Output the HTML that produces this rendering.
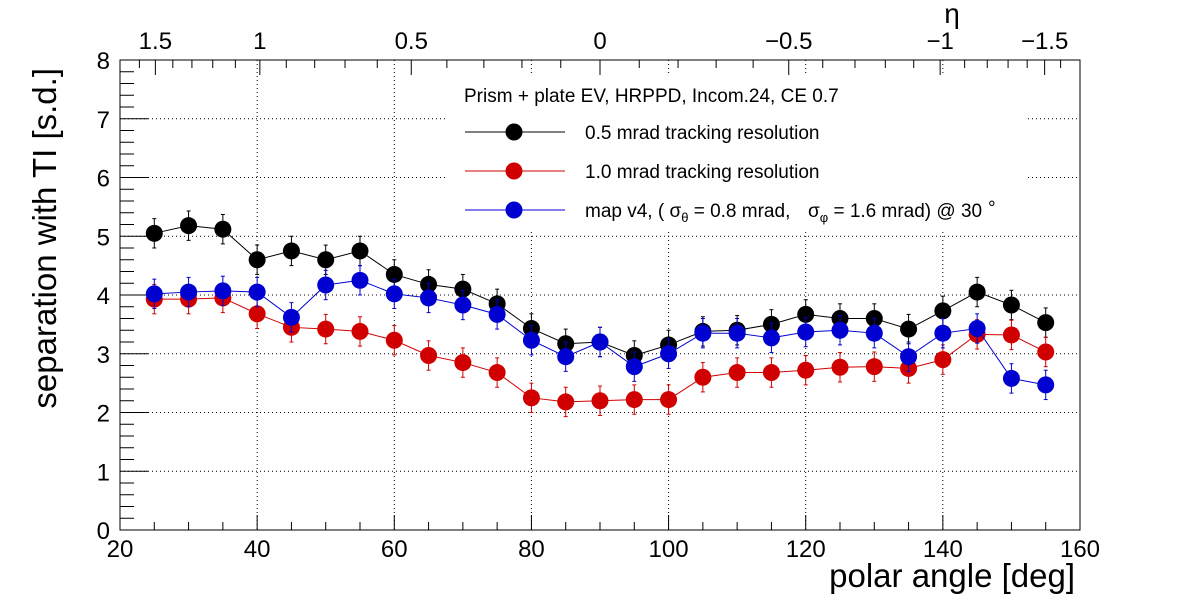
<!DOCTYPE html>
<html><head><meta charset="utf-8"><style>body{margin:0;background:#fff;overflow:hidden}svg{display:block}</style></head><body>
<svg id="s" width="1200" height="600" xmlns="http://www.w3.org/2000/svg" font-family="Liberation Sans, sans-serif"></svg>
<script>
const s=document.getElementById('s');let h='';
const X=v=>120+(v-20)*960/140, Y=v=>530-v*58.75;
for(let i=1;i<8;i++)h+=`<line x1="120" x2="1080" y1="${Y(i)}" y2="${Y(i)}" stroke="#000" stroke-width="1" stroke-dasharray="1,3"/>`;
for(let v=40;v<160;v+=20){const x=X(v);h+=`<line x1="${x}" x2="${x}" y1="60" y2="530" stroke="#000" stroke-dasharray="1,3"/>`;}
const etas=[1.5,1,0.5,0,-0.5,-1,-1.5];
const th=e=>2*Math.atan(Math.exp(-e))*180/Math.PI;
h+=`<rect x="445" y="75" width="580" height="155" fill="#fff"/>`;
h+=`<rect x="120" y="60" width="960" height="470" fill="none" stroke="#000"/>`;
for(let v=20;v<=160;v+=5){const x=X(v),L=v%20==0?15:8;h+=`<line x1="${x}" x2="${x}" y1="530" y2="${530-L}" stroke="#000"/>`;}
for(let v=20;v<=160;v+=20)h+=`<text x="${X(v)}" y="557" font-size="24" text-anchor="middle">${v}</text>`;
for(let k=0;k<=40;k++){const v=k*0.2,y=Y(v),L=k%5==0?28:14;h+=`<line x1="120" x2="${120+L}" y1="${y}" y2="${y}" stroke="#000"/>`;}
for(let v=0;v<=8;v++)h+=`<text x="110" y="${Y(v)+9}" font-size="24" text-anchor="end">${v}</text>`;
for(let k=16;k>=-16;k--){const e=k/10;const x=X(th(e));const maj=k%5==0;h+=`<line x1="${x}" x2="${x}" y1="60" y2="${60+(maj?15:8)}" stroke="#000"/>`;}
const lab={1.5:'1.5',1:'1',0.5:'0.5',0:'0','-0.5':'\u22120.5','-1':'\u22121','-1.5':'\u22121.5'};
for(const e of etas)h+=`<text x="${X(th(e))}" y="49" font-size="24" text-anchor="middle">${lab[e]}</text>`;
h+=`<text x="952" y="23" font-size="28" text-anchor="middle">η</text>`;
h+=`<text x="1075" y="587" font-size="33" text-anchor="end">polar angle [deg]</text>`;
h+=`<text transform="translate(56,68) rotate(-90)" font-size="33" text-anchor="end">separation with TI [s.d.]</text>`;
const xs=[];for(let v=25;v<=155;v+=5)xs.push(v);
const B=[5.05,5.18,5.12,4.6,4.75,4.6,4.75,4.35,4.18,4.1,3.85,3.43,3.17,3.2,2.97,3.15,3.38,3.4,3.5,3.67,3.6,3.6,3.42,3.73,4.05,3.83,3.53];
const R=[3.93,3.93,3.95,3.68,3.45,3.42,3.38,3.23,2.97,2.85,2.68,2.25,2.18,2.2,2.22,2.22,2.6,2.68,2.68,2.72,2.77,2.78,2.75,2.9,3.33,3.32,3.03];
const U=[4.02,4.05,4.07,4.05,3.62,4.17,4.25,4.02,3.95,3.83,3.67,3.23,2.95,3.2,2.78,3.0,3.35,3.35,3.27,3.37,3.4,3.35,2.95,3.35,3.43,2.58,2.47];
function ser(d,c){let p=xs.map((v,i)=>X(v)+','+Y(d[i])).join(' ');h+=`<polyline points="${p}" fill="none" stroke="${c}" stroke-width="1"/>`;
xs.forEach((v,i)=>{const x=X(v),y=Y(d[i]),e=0.25*58.75;h+=`<line x1="${x}" x2="${x}" y1="${y-e}" y2="${y+e}" stroke="${c}"/><line x1="${x-2}" x2="${x+2}" y1="${y-e}" y2="${y-e}" stroke="${c}"/><line x1="${x-2}" x2="${x+2}" y1="${y+e}" y2="${y+e}" stroke="${c}"/><circle cx="${x}" cy="${y}" r="8.5" fill="${c}"/>`;});}
ser(B,'#000');ser(R,'#d00000');ser(U,'#0000d0');
h+=`<text x="464" y="102" font-size="19">Prism + plate EV, HRPPD, Incom.24, CE 0.7</text>`;
const lg=[['#000','0.5 mrad tracking resolution',132],['#d00000','1.0 mrad tracking resolution',171],['#0000d0','',210]];
for(const [c,t,y] of lg){h+=`<line x1="465" x2="565" y1="${y}" y2="${y}" stroke="${c}"/><circle cx="514" cy="${y}" r="8.5" fill="${c}"/>`;if(t)h+=`<text x="585" y="${y+7}" font-size="19">${t}</text>`;}
h+=`<text x="585" y="217" font-size="19">map v4, ( σ<tspan font-size="13" dy="5">θ</tspan><tspan dy="-5"> = 0.8 mrad,</tspan></text>`;
h+=`<text x="808" y="217" font-size="19">σ<tspan font-size="13" dy="5">φ</tspan><tspan dy="-5"> = 1.6 mrad) @ 30</tspan></text>`;
h+=`<text x="988" y="214" font-size="19">°</text>`;
s.innerHTML=h;
</script>
</body></html>
